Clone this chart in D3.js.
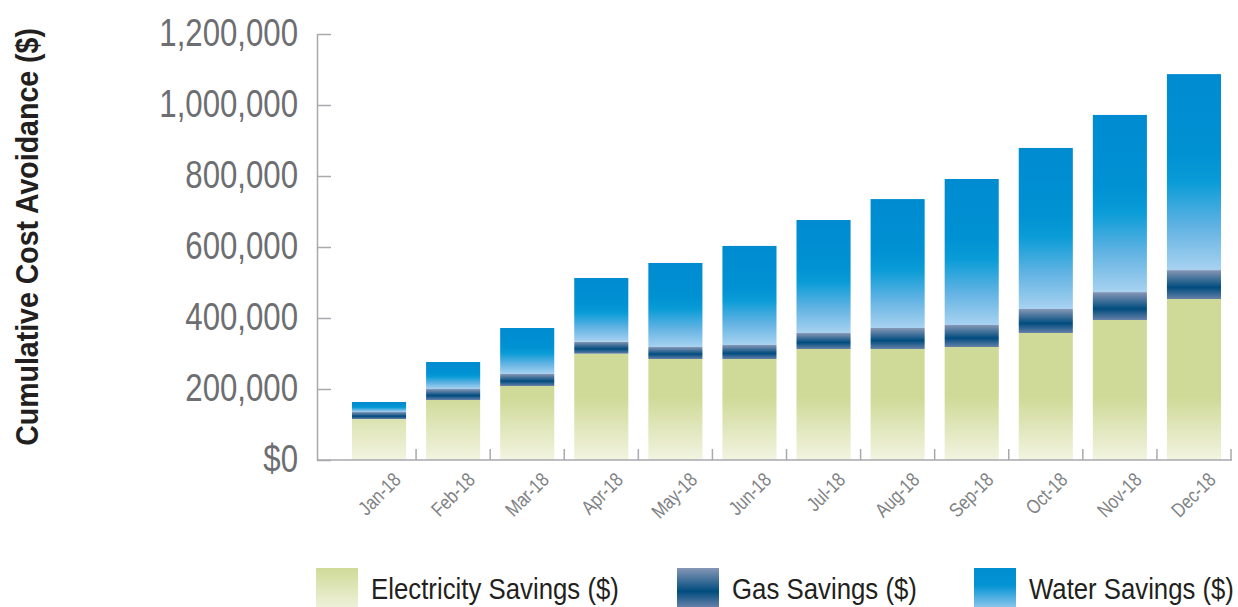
<!DOCTYPE html>
<html>
<head>
<meta charset="utf-8">
<script src="https://cdn.jsdelivr.net/npm/d3@7/dist/d3.min.js"></script>
<style>
  html, body { margin: 0; padding: 0; background: #fff; }
  svg { display: block; }
  text { font-family: 'Liberation Sans Narrow', 'Liberation Sans', Arial, sans-serif; }
</style>
</head>
<body>
<svg id="chart" width="1238" height="607"></svg>
<script>
// data
const months = ['Jan-18', 'Feb-18', 'Mar-18', 'Apr-18', 'May-18', 'Jun-18',
    'Jul-18', 'Aug-18', 'Sep-18', 'Oct-18', 'Nov-18', 'Dec-18']
const electricity = [115500, 169000, 208500, 299500, 284500, 284500, 312700, 312700, 318300, 357800, 394400, 453500]
const gas = [19700, 31000, 33800, 33800, 33800, 39500, 45000, 59100, 62000, 67600, 78600, 81500]
const water = [28200, 76000, 129500, 179400, 236700, 279000, 318300, 363200, 411300, 453600, 499000, 552000]
const yTicks = [0, 200000, 400000, 600000, 800000, 1000000, 1200000]
const seriesNames = ['Electricity Savings ($)', 'Gas Savings ($)', 'Water Savings ($)']

const keys = ['electricity', 'gas', 'water']
const rows = months.map((m, i) => ({
    month: m, electricity: electricity[i], gas: gas[i], water: water[i]
}))

const svg = d3.select('#chart')
const axisLeftX = 317
const baseY = 460
const narrow = 0.82   // the reference uses a condensed face

// squeeze a text selection horizontally
const condense = (sel, k) => sel.each(function () {
    const w = this.getComputedTextLength()
    d3.select(this).attr('textLength', w * k).attr('lengthAdjust', 'spacingAndGlyphs')
})

const x = d3.scaleBand()
    .domain(months)
    .range([342, 1231])
    .paddingInner(0.27)
    .paddingOuter(0.135)

const y = d3.scaleLinear()
    .domain([0, 1200000])
    .range([baseY, 34])

// gradients
const defs = svg.append('defs')
const elecGrad = defs.append('linearGradient')
    .attr('id', 'grad-electricity')
    .attr('gradientUnits', 'userSpaceOnUse')
    .attr('x1', 0).attr('x2', 0).attr('y1', 398).attr('y2', baseY)
elecGrad.append('stop').attr('offset', 0).attr('stop-color', '#d0da98')
elecGrad.append('stop').attr('offset', 1).attr('stop-color', '#f2f4e1')

const gasGrad = defs.append('linearGradient')
    .attr('id', 'grad-gas')
    .attr('x1', 0).attr('x2', 0).attr('y1', 0).attr('y2', 1)
gasGrad.append('stop').attr('offset', 0).attr('stop-color', '#8697b6')
gasGrad.append('stop').attr('offset', 0.6).attr('stop-color', '#004c7e')
gasGrad.append('stop').attr('offset', 1).attr('stop-color', '#6580a8')

const waterGrad = defs.append('linearGradient')
    .attr('id', 'grad-water')
    .attr('x1', 0).attr('x2', 0).attr('y1', 0).attr('y2', 1)
waterGrad.append('stop').attr('offset', 0).attr('stop-color', '#008bd0')
waterGrad.append('stop').attr('offset', 0.42).attr('stop-color', '#0092d3')
waterGrad.append('stop').attr('offset', 0.55).attr('stop-color', '#0a9cd7')
waterGrad.append('stop').attr('offset', 0.78).attr('stop-color', '#62b3e3')
waterGrad.append('stop').attr('offset', 1).attr('stop-color', '#a8d2f0')

// legend swatch gradients
const elecSw = defs.append('linearGradient')
    .attr('id', 'sw-electricity')
    .attr('x1', 0).attr('x2', 0).attr('y1', 0).attr('y2', 1)
elecSw.append('stop').attr('offset', 0).attr('stop-color', '#d0da98')
elecSw.append('stop').attr('offset', 1).attr('stop-color', '#eef1d9')

const waterSw = defs.append('linearGradient')
    .attr('id', 'sw-water')
    .attr('x1', 0).attr('x2', 0).attr('y1', 0).attr('y2', 1)
waterSw.append('stop').attr('offset', 0).attr('stop-color', '#008dd1')
waterSw.append('stop').attr('offset', 0.45).attr('stop-color', '#0494d4')
waterSw.append('stop').attr('offset', 1).attr('stop-color', '#88c4ea')

const fills = {
    electricity: 'url(#grad-electricity)',
    gas: 'url(#grad-gas)',
    water: 'url(#grad-water)'
}

// bars
const stacked = d3.stack().keys(keys)(rows)

svg.append('g')
    .selectAll('g')
    .data(stacked)
    .join('g')
    .attr('fill', d => fills[d.key])
    .selectAll('rect')
    .data(d => d)
    .join('rect')
    .attr('x', d => x(d.data.month))
    .attr('width', x.bandwidth())
    .attr('y', d => y(d[1]))
    .attr('height', d => y(d[0]) - y(d[1]))

// y axis
const yAxis = svg.append('g')
    .attr('transform', `translate(${axisLeftX},0)`)
    .call(d3.axisLeft(y)
        .tickValues(yTicks)
        .tickSizeInner(-14)
        .tickSizeOuter(0)
        .tickPadding(19)
        .tickFormat(d => d === 0 ? '$0' : d3.format(',')(d)))

yAxis.select('.domain').attr('stroke', '#a7a9ac').attr('stroke-width', 1.5)
yAxis.selectAll('.tick line').attr('stroke', '#a7a9ac').attr('stroke-width', 1.5)
yAxis.selectAll('.tick text')
    .attr('fill', '#6d6e71')
    .style('font-size', '38px')
    .style('font-family', "'Liberation Sans Narrow', 'Liberation Sans', Arial, sans-serif")
    .attr('dy', '0.3em')
    .call(condense, narrow)

// x axis
const xAxis = svg.append('g')
const step = x.step()
const tickXs = months.map(m => x(m) + x.bandwidth() + step * x.paddingInner() / 2)

xAxis.append('line')
    .attr('x1', axisLeftX).attr('x2', d3.max(tickXs) + 1)
    .attr('y1', baseY).attr('y2', baseY)
    .attr('stroke', '#a7a9ac').attr('stroke-width', 1.5)

xAxis.selectAll('line.tick')
    .data(tickXs)
    .join('line')
    .attr('class', 'tick')
    .attr('x1', d => d).attr('x2', d => d)
    .attr('y1', baseY).attr('y2', baseY - 11)
    .attr('stroke', '#a7a9ac').attr('stroke-width', 1.5)

xAxis.selectAll('text')
    .data(months)
    .join('text')
    .attr('transform', d => `translate(${x(d) + x.bandwidth() / 2 + 23},481) rotate(-45)`)
    .attr('text-anchor', 'end')
    .attr('fill', '#808285')
    .style('font-size', '20px')
    .text(d => d)
    .call(condense, narrow)

// y axis title, squeezed to the reference length with a scale
const title = svg.append('text')
    .attr('text-anchor', 'middle')
    .attr('fill', '#231f20')
    .style('font-size', '32px')
    .style('font-weight', 'bold')
    .text('Cumulative Cost Avoidance ($)')
const titleK = 418 / title.node().getComputedTextLength()
title.attr('transform', `translate(38,237) rotate(-90) scale(${titleK},1)`)

// legend
const legendX = [316, 677, 974]
const legendTextW = [248, 185, 205]
const swatchFills = ['url(#sw-electricity)', 'url(#grad-gas)', 'url(#sw-water)']
const legend = svg.append('g')
    .selectAll('g')
    .data(seriesNames)
    .join('g')
    .attr('transform', (d, i) => `translate(${legendX[i]},568)`)

legend.append('rect')
    .attr('width', 42)
    .attr('height', 39)
    .attr('fill', (d, i) => swatchFills[i])

legend.append('text')
    .attr('fill', '#231f20')
    .style('font-size', '29px')
    .text(d => d)
    .each(function (d, i) {
        const k = legendTextW[i] / this.getComputedTextLength()
        d3.select(this).attr('transform', `translate(55,31) scale(${k},1)`)
    })
</script>
</body>
</html>
